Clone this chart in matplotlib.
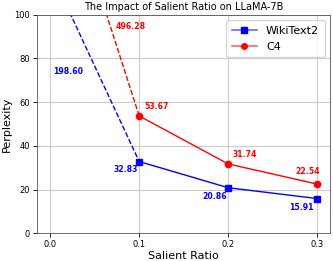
import matplotlib.pyplot as plt
from matplotlib.lines import Line2D

# salient ratio vs perplexity
ratios = [0.0, 0.1, 0.2, 0.3]
wiki = [198.60, 32.83, 20.86, 15.91]
c4 = [496.28, 53.67, 31.74, 22.54]

# the 0.0 points are off the chart, dashed lines just head upwards
wiki_dash_top = 120.0
c4_dash_top = 180.0

fig = plt.figure(figsize=(3.33, 2.61), dpi=100)
ax = fig.add_axes([0.111, 0.106, 0.881, 0.838])

blue = (0, 0, 1)
red = (1, 0, 0)

ax.plot(ratios[:2], [wiki_dash_top, wiki[1]], '--', color=blue, lw=1)
ax.plot(ratios[:2], [c4_dash_top, c4[1]], '--', color=red, lw=1)
ax.plot(ratios[1:], wiki[1:], '-s', color=blue, lw=1, ms=4.5)
ax.plot(ratios[1:], c4[1:], '-o', color=red, lw=1, ms=4.5)

# label offsets in points from each marker; off-chart ones go in data coords
wiki_off = [None, (-10, -6), (-10, -6), (-11.5, -6.5)]
c4_off = [None, (12.5, 7), (12, 6.5), (-6.5, 9)]
offchart_pos = {'wiki': (0.02, 74), 'c4': (0.09, 94.5)}

for name, vals, offs, col in [('wiki', wiki, wiki_off, blue), ('c4', c4, c4_off, red)]:
    for x, y, off in zip(ratios, vals, offs):
        lab = f'{y:.2f}'
        if off is None:
            ax.text(*offchart_pos[name], lab, color=col, fontsize=5.6, fontweight='bold',
                    ha='center', va='center')
        else:
            ax.annotate(lab, (x, y), xytext=off, textcoords='offset points',
                        color=col, fontsize=5.6, fontweight='bold', ha='center', va='center')

ax.set_xlim(-0.015, 0.315)
ax.set_ylim(0, 100)
ax.set_xticks(ratios)
ax.set_yticks([0, 20, 40, 60, 80, 100])
ax.tick_params(labelsize=6, length=3, width=0.6, pad=2)
ax.grid(True, color='#cccccc', lw=0.8)
for s in ax.spines.values():
    s.set_linewidth(0.6)
    s.set_color('#555555')

ax.set_title('The Impact of Salient Ratio on LLaMA-7B', fontsize=7, pad=3)
ax.set_xlabel('Salient Ratio', fontsize=8, labelpad=1)
ax.set_ylabel('Perplexity', fontsize=8, labelpad=2)

handles = [
    Line2D([], [], color=(0, 0, 1, 0.6), marker='s', mfc=blue, mec=blue, ms=4, lw=1.2),
    Line2D([], [], color=(1, 0, 0, 0.6), marker='o', mfc=red, mec=red, ms=4, lw=1.2),
]
ax.legend(handles, ['WikiText2', 'C4'], loc='upper right', fontsize=8,
          handlelength=2.3, borderpad=0.5, labelspacing=0.55)

fig.savefig('out.png', dpi=100)
